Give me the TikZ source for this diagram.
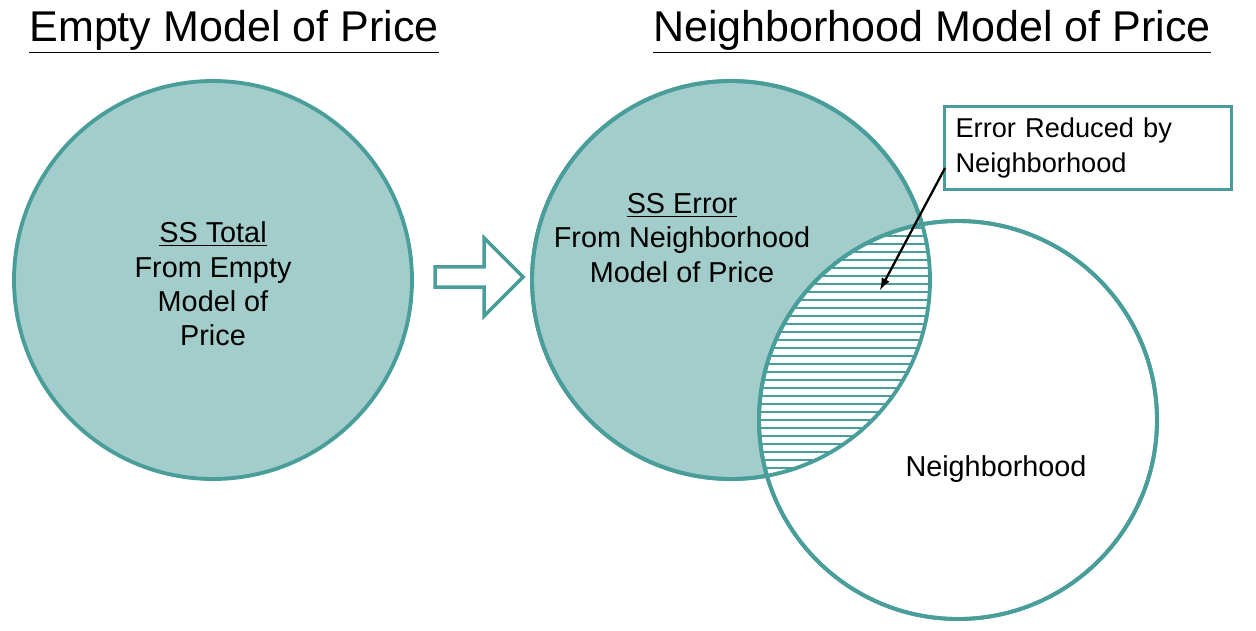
\documentclass[tikz,border=0pt]{standalone}
\usepackage{fontspec}
\setmainfont{Liberation Sans}
\usetikzlibrary{shapes.arrows}
\definecolor{tealfill}{HTML}{A2CDCB}
\definecolor{tealline}{HTML}{4A9E9A}
\tikzset{
  venn/.style={circle, draw=tealline, line width=2.2pt, minimum size=398*0.02cm, inner sep=0pt},
  title/.style={font=\fontsize{24.5}{28}\selectfont},
  body/.style={font=\fontsize{16.4}{19.5}\selectfont, align=center},
}
\begin{document}
\begin{tikzpicture}[x=0.02cm,y=-0.02cm]
\useasboundingbox (0,0) rectangle (1256,630);
% titles
\node[title] (tl) at (234,32) {\underline{Empty Model of Price}};
\node[title] (tr) at (932,32) {\underline{Neighborhood Model of Price}};
%
\node[venn, fill=tealfill] (empty) at (213,280) {};
\node[body] (emptytxt) at (213,284) {\underline{SS Total}\\From Empty\\Model of\\Price};
%
\node[single arrow, draw=tealline, line width=2pt, fill=white, minimum height=88*0.02cm,
  minimum width=78*0.02cm, single arrow head extend=0.1cm, inner sep=0pt] (arr) at (474,277) {};
%
\node[venn, fill=tealfill] (err) at (731,280) {};
\node[venn, fill=white] (nb) at (958,420) {};
\begin{scope}
  \clip (731,280) circle (199);
  \clip (958,420) circle (199);
  \foreach \y in {220,228,...,480} \draw[tealline, line width=0.8pt] (740,\y) -- (940,\y);
\end{scope}
\draw[tealline, line width=2.2pt] (731,280) circle (199);
\draw[tealline, line width=2.2pt] (958,420) circle (199);
%
\node[body] (errtxt) at (682,238) {\underline{SS Error}\\From Neighborhood\\Model of Price};
\node[body] (nbtxt) at (996,469) {Neighborhood};
%
\node[draw=tealline, line width=1.6pt, fill=white, minimum width=287*0.02cm, minimum height=83*0.02cm,
  text width=265*0.02cm, align=left, font=\fontsize{15.5}{20}\selectfont] (box) at (1088,148)
  {Error Reduced by\\Neighborhood};
\coordinate (tip) at (880,290);
\draw[-latex, line width=1.3pt] (945,168) -- (tip);
\end{tikzpicture}
\end{document}
